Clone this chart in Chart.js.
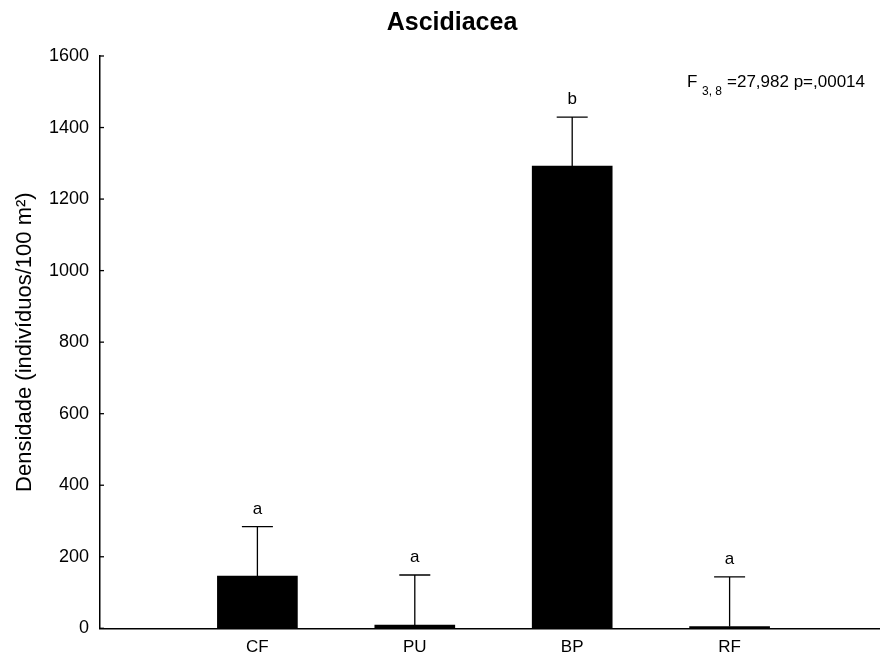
<!DOCTYPE html>
<html>
<head>
<meta charset="utf-8">
<script src="https://cdn.jsdelivr.net/npm/chart.js@4.4.1/dist/chart.umd.min.js"></script>
<style>
  html, body { margin: 0; padding: 0; background: #fff; overflow: hidden; }
  #wrap { width: 896px; height: 662px; position: relative; }
</style>
</head>
<body>
<div id="wrap"><canvas id="myBarChart"></canvas></div>
<script>
// density bars with upper error bars and group letters

let sites = ["", "CF", "PU", "BP", "RF", ""];
let means = [null, 146, 9, 1292, 5, null];
let upper = [null, 284, 149, 1429, 144, null];
let letters = ["", "a", "a", "b", "a", ""];
let yTicks = [0, 200, 400, 600, 800, 1000, 1200, 1400, 1600];

const font = "'Liberation Sans', Arial, sans-serif";

// error bars, letters, inward y ticks, title and F statistic
const extras = {
    id: "extras",
    afterDatasetsDraw(chart) {
        const ctx = chart.ctx;
        const x = chart.scales.x;
        const y = chart.scales.y;
        ctx.save();
        ctx.strokeStyle = "#000";
        ctx.fillStyle = "#000";
        ctx.lineWidth = 1.3;
        for (let i = 0; i < sites.length; i++) {
            if (means[i] === null) continue;
            const px = x.getPixelForValue(i);
            const top = y.getPixelForValue(upper[i]);
            ctx.beginPath();
            ctx.moveTo(px, y.getPixelForValue(means[i]));
            ctx.lineTo(px, top);
            ctx.moveTo(px - 15.5, top);
            ctx.lineTo(px + 15.5, top);
            ctx.stroke();
            ctx.font = "17px " + font;
            ctx.textAlign = "center";
            ctx.textBaseline = "alphabetic";
            ctx.fillText(letters[i], px, top - 13);
        }
        // small ticks pointing into the plot
        yTicks.forEach(v => {
            const py = y.getPixelForValue(v);
            ctx.beginPath();
            ctx.moveTo(x.left, py);
            ctx.lineTo(x.left + 4, py);
            ctx.stroke();
        });
        ctx.textAlign = "center";
        ctx.font = "bold 25px " + font;
        ctx.fillText("Ascidiacea", 452, 30);
        ctx.textAlign = "left";
        ctx.font = "17px " + font;
        ctx.fillText("F", 687, 87);
        ctx.font = "12px " + font;
        ctx.fillText("3, 8", 702, 95);
        ctx.font = "17px " + font;
        ctx.fillText("=27,982 p=,00014", 727, 87);
        ctx.restore();
    }
};

const chartData = {
    type: "bar",
    data: {
        labels: sites,
        datasets: [{
            label: "Densidade",
            backgroundColor: "#000",
            borderWidth: 0,
            barThickness: 80,
            data: means
        }]
    },
    options: {
        responsive: true,
        maintainAspectRatio: false,
        animation: false,
        layout: { padding: { top: 56, left: 0, right: 0, bottom: 0 } },
        plugins: {
            legend: { display: false },
            title: { display: false },
            tooltip: { enabled: false }
        },
        scales: {
            x: {
                offset: false,
                grid: { display: true, drawOnChartArea: false, drawTicks: false },
                border: { display: true, color: "#000", width: 1.5 },
                ticks: {
                    color: "#000",
                    padding: 9,
                    autoSkip: false,
                    maxRotation: 0,
                    font: { family: font, size: 17 }
                },
                afterFit(scale) { scale.height = 33.7; }
            },
            y: {
                min: 0,
                max: 1600,
                afterBuildTicks(scale) { scale.ticks = yTicks.map(v => ({ value: v })); },
                grid: { display: true, drawOnChartArea: false, drawTicks: false },
                border: { display: true, color: "#000", width: 1.5 },
                ticks: {
                    color: "#000",
                    padding: 11,
                    font: { family: font, size: 18 },
                    callback: v => String(v)
                },
                title: {
                    display: true,
                    text: "Densidade (indivíduos/100 m²)",
                    color: "#000",
                    padding: { top: 12, bottom: 0 },
                    font: { family: font, size: 22 }
                },
                afterFit(scale) { scale.width = 100; }
            }
        }
    },
    plugins: [extras]
};

let barChart = new Chart("myBarChart", chartData);
</script>
</body>
</html>
